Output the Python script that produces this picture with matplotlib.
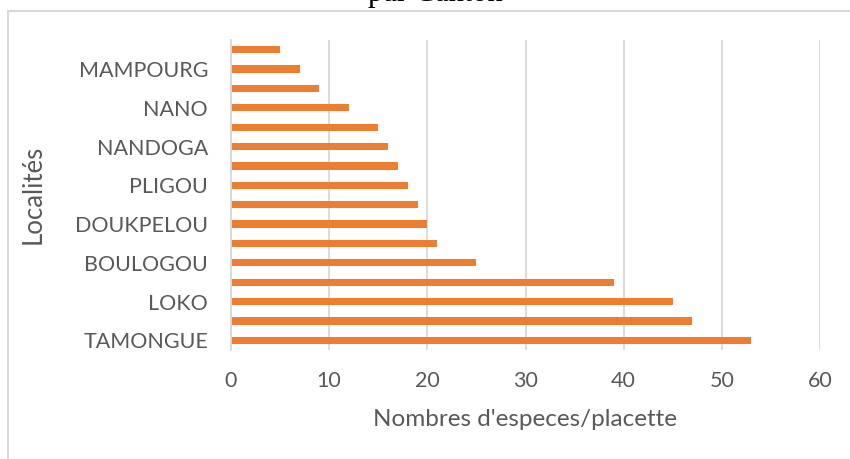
import matplotlib
matplotlib.use("Agg")
import matplotlib.pyplot as plt
from matplotlib.patches import Rectangle

# Species count per plot for each locality (bottom to top)
localites = ["TAMONGUE", "", "LOKO", "", "BOULOGOU", "", "DOUKPELOU", "",
             "PLIGOU", "", "NANDOGA", "", "NANO", "", "MAMPOURG", ""]
nb_especes = [53, 47, 45, 39, 25, 21, 20, 19, 18, 17, 16, 15, 12, 9, 7, 5]
x_ticks = [0, 10, 20, 30, 40, 50, 60]

W, H = 850, 459
fig = plt.figure(figsize=(W / 100, H / 100), dpi=100)
fig.patch.set_facecolor("white")

text_color = "#595959"
grid_color = "#D9D9D9"
bar_color = "#ED7D31"
font = "Lato"

# Chart frame
fig.patches.append(Rectangle((8 / W, -0.05), 1.2, 1 - 11 / H + 0.05,
                             transform=fig.transFigure, fill=False,
                             edgecolor=grid_color, linewidth=1.5, zorder=0))

# Title, mostly above the visible area
fig.text(435 / W, 1 - 1 / H, "par Canton", ha="center", va="baseline",
         fontsize=22, family="Liberation Serif", color="black")

ax = fig.add_axes([231 / W, (H - 350) / H, (820 - 231) / W, (350 - 40) / H])
ypos = list(range(len(nb_especes)))
ax.barh(ypos, nb_especes, height=0.37, color=bar_color, zorder=3)

ax.set_xlim(0, 60)
ax.set_ylim(-0.5, len(nb_especes) - 0.5)
ax.set_xticks(x_ticks)
ax.set_xticklabels([str(t) for t in x_ticks])
ax.set_yticks(ypos)
ax.set_yticklabels(localites)

ax.grid(axis="x", color=grid_color, linewidth=1.3, zorder=0)
for s in ["top", "right", "bottom"]:
    ax.spines[s].set_visible(False)
ax.spines["left"].set_color(grid_color)
ax.spines["left"].set_linewidth(1.3)
ax.spines["left"].set_zorder(4)

ax.tick_params(axis="both", length=0, colors=text_color, labelsize=15.5)
ax.tick_params(axis="y", pad=16.5)
ax.tick_params(axis="x", pad=15)
for lab in ax.get_xticklabels() + ax.get_yticklabels():
    lab.set_family(font)

fig.text(525 / W, 1 - 419 / H, "Nombres d'especes/placette", ha="center",
         va="center", fontsize=17.5, color=text_color, family=font)
fig.text(33 / W, 1 - 194 / H, "Localités", ha="center", va="center",
         rotation=90, fontsize=18.5, color=text_color, family=font)

fig.savefig("out.png", dpi=100)
